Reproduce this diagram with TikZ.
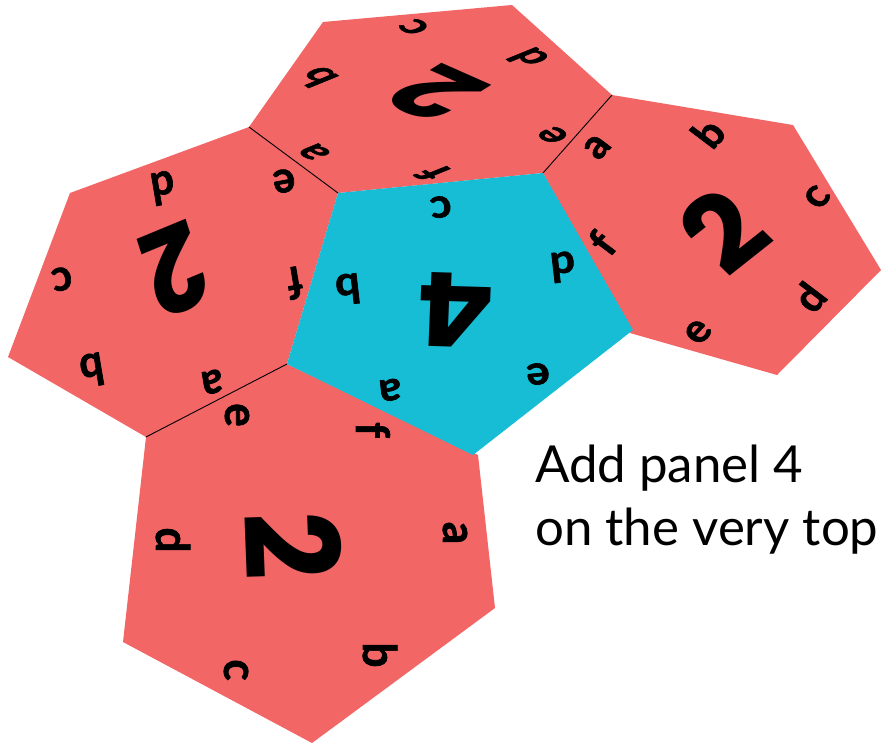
\documentclass[tikz,border=0pt]{standalone}
\usepackage{fontspec}
\usepackage{xcolor}
\usepackage{tikz}
\newfontfamily\glyphfont{Poppins}
\newfontfamily\lettersfont{Lato}[BoldFeatures={FakeBold=1.6}]
\setmainfont{Lato}
\definecolor{panelred}{RGB}{242,102,102}
\definecolor{panelblue}{RGB}{23,189,212}
\tikzset{
  panel/.style={fill=#1, draw=none},
  panel/.default=panelred,
  seam/.style={draw=black, line width=0.9pt},
  flat/.style n args={3}{xscale=#1, yscale=#2, rotate=#3},
  letterglyph/.style={inner sep=0pt, font=\lettersfont\bfseries\fontsize{44}{44}\selectfont},
  numberglyph/.style={inner sep=0pt, font=\glyphfont\bfseries\fontsize{118}{118}\selectfont},
  caption/.style={inner sep=0pt, anchor=north west, align=left, font=\fontsize{51}{63}\selectfont},
}
\begin{document}
\begin{tikzpicture}[x=1pt, y=-1pt]
  \useasboundingbox (0,0) rectangle (881,745);

  % Shared corners
  \coordinate (nw) at (249,127);
  \coordinate (cnw) at (338,193);
  \coordinate (cne) at (543,173);
  \coordinate (ne) at (612,95);
  \coordinate (csw) at (287,364);
  \coordinate (sw) at (146,437);

  % Red panels
  \fill[panel] (323,22) -- (512,5) -- (ne) -- (cne) -- (cnw) -- (nw) -- cycle;
  \fill[panel] (nw) -- (cnw) -- (csw) -- (sw) -- (8,357) -- (70,193) -- cycle;
  \fill[panel] (ne) -- (793,125) -- (881,270) -- (777,375) -- (630,333) -- (cne) -- cycle;
  \fill[panel] (sw) -- (csw) -- (478,455) -- (495,608) -- (312,743) -- (123,642) -- cycle;

  % Seams
  \draw[seam] (nw) -- (cnw);
  \draw[seam] (ne) -- (cne);
  \draw[seam] (csw) -- (sw);

  % Panel 4
  \fill[panel=panelblue] (cnw) -- (cne) -- (633,330) -- (473,455) -- (csw) -- cycle;

  % Top panel
  \node[numberglyph, flat={1.1}{.58}{140}] (topnum) at (437,93) {2};
  \node[letterglyph, flat={1.15}{.62}{127}] (topa) at (314,152) {a};
  \node[letterglyph, flat={1.15}{.62}{127}] (topb) at (317,77) {b};
  \node[letterglyph, flat={1.15}{.62}{127}] (topc) at (414,27) {c};
  \node[letterglyph, flat={1.15}{.62}{127}] (topd) at (528,58) {d};
  \node[letterglyph, flat={1.15}{.62}{127}] (tope) at (553,135) {e};
  \node[letterglyph, flat={1.15}{.62}{127}] (topf) at (433,173) {f};

  % Left panel
  \node[numberglyph, flat={.88}{1}{200}] (leftnum) at (175,269) {2};
  \node[letterglyph, flat={.95}{1}{190}] (lefta) at (212,382) {a};
  \node[letterglyph, flat={.95}{1}{190}] (leftb) at (92,370) {b};
  \node[letterglyph, flat={.95}{1}{190}] (leftc) at (62,279) {c};
  \node[letterglyph, flat={.95}{1}{190}] (leftd) at (163,188) {d};
  \node[letterglyph, flat={.95}{1}{190}] (lefte) at (284,181) {e};
  \node[letterglyph, flat={.95}{1}{190}] (leftf) at (295,283) {f};

  % Right panel
  \node[numberglyph, flat={1}{.88}{42}] (rightnum) at (723,231) {2};
  \node[letterglyph, flat={1}{.9}{50}] (righta) at (597,147) {a};
  \node[letterglyph, flat={1}{.9}{50}] (rightb) at (708,133) {b};
  \node[letterglyph, flat={1}{.9}{50}] (rightc) at (817,197) {c};
  \node[letterglyph, flat={1}{.9}{50}] (rightd) at (809,297) {d};
  \node[letterglyph, flat={1}{.9}{50}] (righte) at (698,332) {e};
  \node[letterglyph, flat={1}{.9}{50}] (rightf) at (602,243) {f};

  % Bottom panel
  \node[numberglyph, flat={1.1}{1}{-88}] (botnum) at (293,546) {2};
  \node[letterglyph, flat={1.05}{1}{-90}] (bota) at (455,533) {a};
  \node[letterglyph, flat={1.05}{1}{-90}] (botb) at (380,655) {b};
  \node[letterglyph, flat={1.05}{1}{-90}] (botc) at (236,670) {c};
  \node[letterglyph, flat={1.05}{1}{-90}] (botd) at (173,540) {d};
  \node[letterglyph, flat={1.05}{1}{-90}] (bote) at (237,415) {e};
  \node[letterglyph, flat={1.05}{1}{-90}] (botf) at (373,430) {f};

  % Panel 4 glyphs
  \node[numberglyph, flat={1}{.87}{178}] (bluenum) at (456,310) {4};
  \node[letterglyph, flat={1}{.92}{186}] (bluea) at (390,390) {a};
  \node[letterglyph, flat={1}{.92}{186}] (blueb) at (348,289) {b};
  \node[letterglyph, flat={1}{.92}{186}] (bluec) at (441,207) {c};
  \node[letterglyph, flat={1}{.92}{186}] (blued) at (563,267) {d};
  \node[letterglyph, flat={1}{.92}{186}] (bluee) at (538,374) {e};

  % Caption
  \node[caption] (addtext) at (535,445) {Add panel 4\\on the very top};
\end{tikzpicture}
\end{document}
